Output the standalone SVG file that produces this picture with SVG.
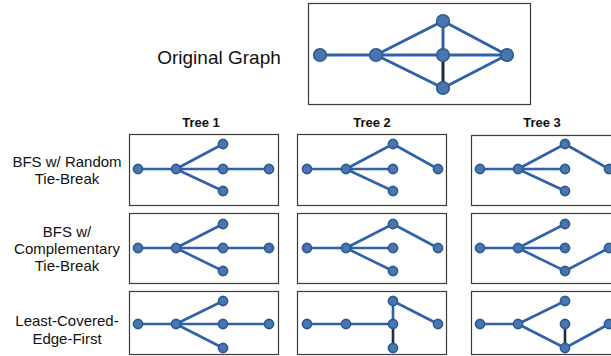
<svg xmlns="http://www.w3.org/2000/svg" width="611" height="356" viewBox="0 0 611 356">
  <style>
    .box { fill: #ffffff; stroke: #3a3a3a; stroke-width: 1.2; }
    .e { stroke: #2f62aa; stroke-width: 2.6; stroke-linecap: round; fill: none; }
    .eo { stroke: #2f62aa; stroke-width: 3; stroke-linecap: round; fill: none; }
    .dk { stroke: #1b2c44; }
    .n { fill: #4a75ae; stroke: #2d5a92; stroke-width: 1.6; }
    .lbl { font-family: "Liberation Sans", Arial, sans-serif; font-size: 15px; fill: #111; text-anchor: middle; }
    .hdr { font-family: "Liberation Sans", Arial, sans-serif; font-size: 13px; font-weight: bold; fill: #111; text-anchor: middle; }
  </style>
  <rect width="611" height="356" fill="#ffffff"/>

  <!-- title and labels -->
  <text class="lbl" x="219" y="64" style="font-size:19px">Original Graph</text>
  <text class="hdr" x="201" y="127">Tree 1</text>
  <text class="hdr" x="372" y="127">Tree 2</text>
  <text class="hdr" x="542" y="127">Tree 3</text>
  <text class="lbl" x="67" y="167">BFS w/ Random</text>
  <text class="lbl" x="67" y="184">Tie-Break</text>
  <text class="lbl" x="67" y="237">BFS w/</text>
  <text class="lbl" x="67" y="254">Complementary</text>
  <text class="lbl" x="67" y="271">Tie-Break</text>
  <text class="lbl" x="67" y="326">Least-Covered-</text>
  <text class="lbl" x="67" y="344">Edge-First</text>

  <!-- frames -->
  <g id="frames">
    <rect class="box" x="308.5" y="3.5" width="222" height="101"/>
    <rect class="box" x="129.5" y="134.5" width="149" height="71"/>
    <rect class="box" x="297.5" y="134.5" width="149" height="71"/>
    <rect class="box" x="471.5" y="135.5" width="149" height="70"/>
    <rect class="box" x="129.5" y="213.5" width="149" height="70"/>
    <rect class="box" x="297.5" y="213.5" width="149" height="70"/>
    <rect class="box" x="471.5" y="213.5" width="149" height="70"/>
    <rect class="box" x="129.5" y="291.5" width="149" height="63"/>
    <rect class="box" x="297.5" y="291.5" width="149" height="63"/>
    <rect class="box" x="471.5" y="291.5" width="149" height="63"/>
  </g>

  <!-- connectors -->
  <g id="connectors">
    <!-- original graph -->
    <path class="eo" d="M320 55H376M376 55L443 21M376 55H443M376 55L443 88M443 21V55M443 21L507 55M443 55H507M443 88L507 55"/>
    <path class="eo dk" d="M443 55V88"/>
    <!-- row 1 -->
    <path class="e" d="M138 169H176M176 169L223 144M176 169H223M176 169L223 191M223 169H269"/>
    <path class="e" d="M307 169H346M346 169L393 144M346 169H393M346 169L393 191M393 144L438 169"/>
    <path class="e" d="M480 169H518M518 169L565 144M518 169H565M518 169L565 191M565 144L609 169"/>
    <!-- row 2 -->
    <path class="e" d="M138 248H176M176 248L223 224M176 248H223M176 248L223 271M223 248H269"/>
    <path class="e" d="M307 248H346M346 248L393 224M346 248H393M346 248L393 271M393 224L438 248"/>
    <path class="e" d="M480 248H518M518 248L565 224M518 248H565M518 248L565 271M565 271L609 248"/>
    <!-- row 3 -->
    <path class="e" d="M138 324H176M176 324L223 301M176 324H223M176 324L223 348M223 324H269"/>
    <path class="e" d="M307 324H393M393 301V324M393 301L438 324"/>
    <path class="e dk" d="M393 324V348"/>
    <path class="e" d="M480 324H518M518 324L565 301M518 324L565 348M565 348L609 324"/>
    <path class="e dk" d="M565 324V348"/>
  </g>

  <!-- original graph nodes -->
  <g id="orig">
    <circle class="n" cx="320" cy="55" r="6.3"/>
    <circle class="n" cx="376" cy="55" r="6.3"/>
    <circle class="n" cx="443" cy="21" r="6.3"/>
    <circle class="n" cx="443" cy="55" r="6.3"/>
    <circle class="n" cx="443" cy="88" r="6.3"/>
    <circle class="n" cx="507" cy="55" r="6.3"/>
  </g>

  <!-- tree nodes -->
  <g id="r1t1"><circle class="n" cx="138" cy="169" r="4.6"/><circle class="n" cx="176" cy="169" r="4.6"/><circle class="n" cx="223" cy="144" r="4.6"/><circle class="n" cx="223" cy="169" r="4.6"/><circle class="n" cx="223" cy="191" r="4.6"/><circle class="n" cx="269" cy="169" r="4.6"/></g>
  <g id="r1t2"><circle class="n" cx="307" cy="169" r="4.6"/><circle class="n" cx="346" cy="169" r="4.6"/><circle class="n" cx="393" cy="144" r="4.6"/><circle class="n" cx="393" cy="169" r="4.6"/><circle class="n" cx="393" cy="191" r="4.6"/><circle class="n" cx="438" cy="169" r="4.6"/></g>
  <g id="r1t3"><circle class="n" cx="480" cy="169" r="4.6"/><circle class="n" cx="518" cy="169" r="4.6"/><circle class="n" cx="565" cy="144" r="4.6"/><circle class="n" cx="565" cy="169" r="4.6"/><circle class="n" cx="565" cy="191" r="4.6"/><circle class="n" cx="609" cy="169" r="4.6"/></g>

  <g id="r2t1"><circle class="n" cx="138" cy="248" r="4.6"/><circle class="n" cx="176" cy="248" r="4.6"/><circle class="n" cx="223" cy="224" r="4.6"/><circle class="n" cx="223" cy="248" r="4.6"/><circle class="n" cx="223" cy="271" r="4.6"/><circle class="n" cx="269" cy="248" r="4.6"/></g>
  <g id="r2t2"><circle class="n" cx="307" cy="248" r="4.6"/><circle class="n" cx="346" cy="248" r="4.6"/><circle class="n" cx="393" cy="224" r="4.6"/><circle class="n" cx="393" cy="248" r="4.6"/><circle class="n" cx="393" cy="271" r="4.6"/><circle class="n" cx="438" cy="248" r="4.6"/></g>
  <g id="r2t3"><circle class="n" cx="480" cy="248" r="4.6"/><circle class="n" cx="518" cy="248" r="4.6"/><circle class="n" cx="565" cy="224" r="4.6"/><circle class="n" cx="565" cy="248" r="4.6"/><circle class="n" cx="565" cy="271" r="4.6"/><circle class="n" cx="609" cy="248" r="4.6"/></g>

  <g id="r3t1"><circle class="n" cx="138" cy="324" r="4.6"/><circle class="n" cx="176" cy="324" r="4.6"/><circle class="n" cx="223" cy="301" r="4.6"/><circle class="n" cx="223" cy="324" r="4.6"/><circle class="n" cx="223" cy="348" r="4.6"/><circle class="n" cx="269" cy="324" r="4.6"/></g>
  <g id="r3t2"><circle class="n" cx="307" cy="324" r="4.6"/><circle class="n" cx="346" cy="324" r="4.6"/><circle class="n" cx="393" cy="301" r="4.6"/><circle class="n" cx="393" cy="324" r="4.6"/><circle class="n" cx="393" cy="348" r="4.6"/><circle class="n" cx="438" cy="324" r="4.6"/></g>
  <g id="r3t3"><circle class="n" cx="480" cy="324" r="4.6"/><circle class="n" cx="518" cy="324" r="4.6"/><circle class="n" cx="565" cy="301" r="4.6"/><circle class="n" cx="565" cy="324" r="4.6"/><circle class="n" cx="565" cy="348" r="4.6"/><circle class="n" cx="609" cy="324" r="4.6"/></g>
</svg>
